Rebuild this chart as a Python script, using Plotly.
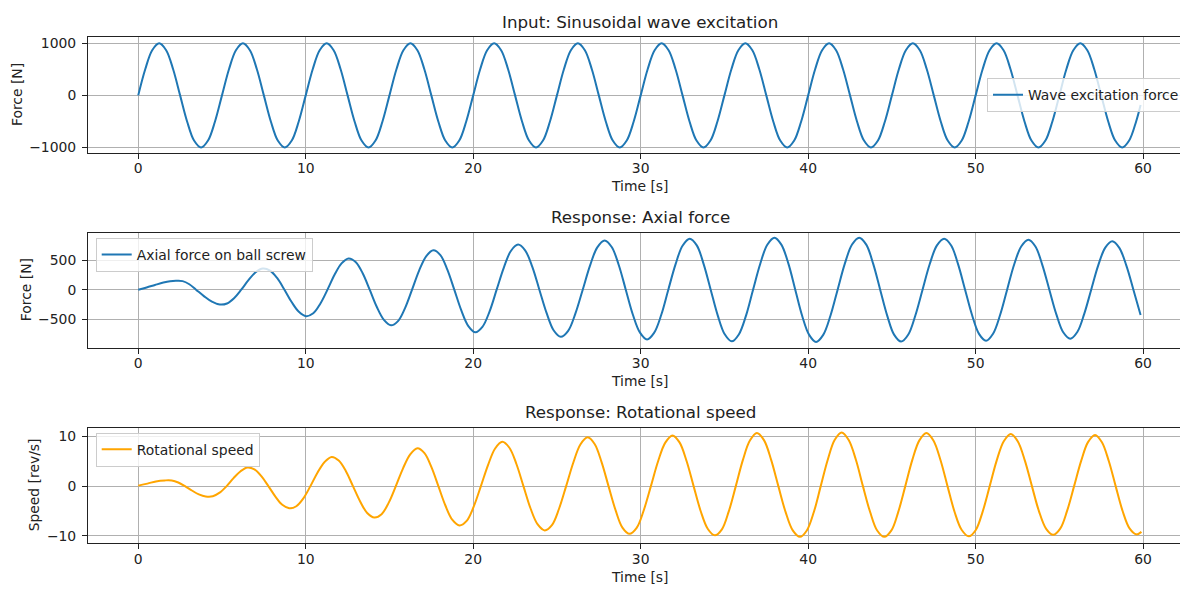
import plotly.graph_objects as go

# ---------------- data ----------------
# Panel 1: input wave excitation force [N]
t_in = [
    0.0, 0.417, 0.833, 1.25, 1.667, 2.083, 2.5, 2.917, 3.333, 3.75, 4.167, 4.583,
    5.0, 5.417, 5.833, 6.25, 6.667, 7.083, 7.5, 7.917, 8.333, 8.75, 9.167, 9.583,
    10.0, 10.417, 10.833, 11.25, 11.667, 12.083, 12.5, 12.917, 13.333, 13.75, 14.167, 14.583,
    15.0, 15.417, 15.833, 16.25, 16.667, 17.083, 17.5, 17.917, 18.333, 18.75, 19.167, 19.583,
    20.0, 20.417, 20.833, 21.25, 21.667, 22.083, 22.5, 22.917, 23.333, 23.75, 24.167, 24.583,
    25.0, 25.417, 25.833, 26.25, 26.667, 27.083, 27.5, 27.917, 28.333, 28.75, 29.167, 29.583,
    30.0, 30.417, 30.833, 31.25, 31.667, 32.083, 32.5, 32.917, 33.333, 33.75, 34.167, 34.583,
    35.0, 35.417, 35.833, 36.25, 36.667, 37.083, 37.5, 37.917, 38.333, 38.75, 39.167, 39.583,
    40.0, 40.417, 40.833, 41.25, 41.667, 42.083, 42.5, 42.917, 43.333, 43.75, 44.167, 44.583,
    45.0, 45.417, 45.833, 46.25, 46.667, 47.083, 47.5, 47.917, 48.333, 48.75, 49.167, 49.583,
    50.0, 50.417, 50.833, 51.25, 51.667, 52.083, 52.5, 52.917, 53.333, 53.75, 54.167, 54.583,
    55.0, 55.417, 55.833, 56.25, 56.667, 57.083, 57.5, 57.917, 58.333, 58.75, 59.167, 59.583,
    59.85,
]
f_in = [
    0, 500, 866, 1000, 866, 500, 0, -500, -866, -1000, -866, -500,
    0, 500, 866, 1000, 866, 500, 0, -500, -866, -1000, -866, -500,
    0, 500, 866, 1000, 866, 500, 0, -500, -866, -1000, -866, -500,
    0, 500, 866, 1000, 866, 500, 0, -500, -866, -1000, -866, -500,
    0, 500, 866, 1000, 866, 500, 0, -500, -866, -1000, -866, -500,
    0, 500, 866, 1000, 866, 500, 0, -500, -866, -1000, -866, -500,
    0, 500, 866, 1000, 866, 500, 0, -500, -866, -1000, -866, -500,
    0, 500, 866, 1000, 866, 500, 0, -500, -866, -1000, -866, -500,
    0, 500, 866, 1000, 866, 500, 0, -500, -866, -1000, -866, -500,
    0, 500, 866, 1000, 866, 500, 0, -500, -866, -1000, -866, -500,
    0, 500, 866, 1000, 866, 500, 0, -500, -866, -1000, -866, -500,
    0, 500, 866, 1000, 866, 500, 0, -500, -866, -1000, -866, -500,
    -185,
]

# Panel 2: axial force on ball screw [N]
t_ax = [
    0.0, 0.5, 1.0, 1.5, 1.9, 2.25,
    2.65, 3.05, 3.45, 3.92, 4.40, 4.87,
    5.30, 5.72, 6.15, 6.58, 7.01, 7.44,
    7.87, 8.30, 8.73, 9.16, 9.59, 10.02,
    10.45, 10.87, 11.30, 11.72, 12.14, 12.56,
    12.98, 13.40, 13.82, 14.24, 14.67, 15.09,
    15.51, 15.93, 16.35, 16.77, 17.20, 17.62,
    18.04, 18.45, 18.87, 19.29, 19.71, 20.13,
    20.55, 20.98, 21.40, 21.83, 22.25, 22.68,
    23.10, 23.53, 23.95, 24.38, 24.80, 25.23,
    25.67, 26.10, 26.54, 26.98, 27.41, 27.85,
    28.27, 28.69, 29.11, 29.53, 29.96, 30.38,
    30.80, 31.23, 31.65, 32.08, 32.50, 32.93,
    33.35, 33.76, 34.18, 34.60, 35.02, 35.44,
    35.86, 36.29, 36.71, 37.14, 37.56, 37.99,
    38.40, 38.82, 39.23, 39.64, 40.06, 40.47,
    40.90, 41.33, 41.76, 42.19, 42.62, 43.05,
    43.47, 43.88, 44.30, 44.72, 45.13, 45.55,
    45.98, 46.40, 46.83, 47.26, 47.69, 48.12,
    48.54, 48.95, 49.37, 49.79, 50.20, 50.62,
    51.04, 51.46, 51.88, 52.30, 52.73, 53.15,
    53.57, 53.98, 54.40, 54.82, 55.23, 55.65,
    56.07, 56.48, 56.90, 57.32, 57.74, 58.16,
    58.58, 59.00, 59.42, 59.85,
]
f_ax = [
    0, 38, 80, 120, 143, 150,
    145, 92, 0, -109, -204, -252,
    -234, -144, 0, 161, 295, 358,
    323, 194, 0, -210, -376, -450,
    -401, -238, 0, 252, 447, 530,
    470, 278, 0, -290, -513, -605,
    -533, -313, 0, 324, 569, 668,
    586, 343, 0, -352, -617, -722,
    -631, -368, 0, 375, 656, 764,
    667, 388, 0, -394, -688, -800,
    -698, -406, 0, 412, 718, 835,
    724, 419, 0, -420, -729, -843,
    -733, -425, 0, 429, 746, 865,
    751, 434, 0, -436, -757, -876,
    -759, -439, 0, 440, 763, 882,
    764, 442, 0, -442, -766, -886,
    -766, -442, 0, 441, 765, 882,
    764, 441, 0, -440, -762, -880,
    -760, -437, 0, 435, 751, 865,
    749, 433, 0, -433, -749, -865,
    -746, -430, 0, 427, 737, 848,
    732, 421, 0, -418, -722, -831,
    -718, -414, 0, 412, 712, 820,
    708, 408, 0, -430,
]

# Panel 3: rotational speed [rev/s]
t_rs = [
    0.0, 0.55, 1.05, 1.6,
    2.0, 2.39, 2.79, 3.20, 3.62, 4.03,
    4.45, 4.86, 5.28, 5.69, 6.11, 6.52,
    6.94, 7.35, 7.77, 8.19, 8.60, 9.02,
    9.44, 9.86, 10.28, 10.70, 11.13, 11.55,
    11.97, 12.40, 12.82, 13.25, 13.67, 14.10,
    14.53, 14.95, 15.38, 15.81, 16.24, 16.67,
    17.09, 17.50, 17.92, 18.34, 18.76, 19.18,
    19.61, 20.03, 20.46, 20.89, 21.31, 21.74,
    22.16, 22.58, 23.00, 23.42, 23.85, 24.27,
    24.70, 25.12, 25.55, 25.98, 26.40, 26.83,
    27.25, 27.66, 28.08, 28.50, 28.91, 29.33,
    29.76, 30.18, 30.61, 31.04, 31.47, 31.90,
    32.32, 32.74, 33.16, 33.58, 34.01, 34.43,
    34.85, 35.26, 35.68, 36.10, 36.52, 36.94,
    37.37, 37.79, 38.22, 38.65, 39.08, 39.51,
    39.92, 40.34, 40.75, 41.17, 41.58, 42.00,
    42.42, 42.85, 43.27, 43.70, 44.12, 44.55,
    44.97, 45.38, 45.80, 46.22, 46.64, 47.06,
    47.48, 47.90, 48.32, 48.74, 49.17, 49.59,
    50.01, 50.42, 50.84, 51.26, 51.68, 52.10,
    52.52, 52.94, 53.36, 53.78, 54.21, 54.63,
    55.05, 55.46, 55.88, 56.30, 56.71, 57.13,
    57.54, 57.95, 58.36, 58.77, 59.19, 59.60,
    59.90,
]
v_rs = [
    0.1, 0.5, 0.95, 1.15,
    1.13, 0.73, 0.0, -0.88, -1.66, -2.07,
    -2.03, -1.32, 0.0, 1.6, 3.0, 3.75,
    3.35, 1.99, 0.0, -2.11, -3.75, -4.45,
    -4.05, -2.46, 0.0, 2.69, 4.86, 5.85,
    5.13, 3.0, 0.0, -3.08, -5.39, -6.3,
    -5.64, -3.37, 0.0, 3.58, 6.39, 7.6,
    6.62, 3.85, 0.0, -3.9, -6.8, -7.9,
    -6.99, -4.12, 0.0, 4.28, 7.56, 8.9,
    7.71, 4.45, 0.0, -4.45, -7.71, -8.9,
    -7.84, -4.6, 0.0, 4.75, 8.36, 9.8,
    8.46, 4.87, 0.0, -4.83, -8.34, -9.6,
    -8.4, -4.9, 0.0, 5.0, 8.75, 10.2,
    8.79, 5.05, 0.0, -5.0, -8.62, -9.9,
    -8.69, -5.08, 0.0, 5.22, 9.15, 10.7,
    9.2, 5.27, 0.0, -5.18, -8.9, -10.2,
    -8.92, -5.2, 0.0, 5.3, 9.27, 10.8,
    9.27, 5.3, 0.0, -5.2, -8.92, -10.2,
    -8.9, -5.18, 0.0, 5.27, 9.2, 10.7,
    9.18, 5.25, 0.0, -5.15, -8.83, -10.1,
    -8.81, -5.12, 0.0, 5.18, 9.03, 10.5,
    8.99, 5.13, 0.0, -5.02, -8.59, -9.8,
    -8.56, -4.98, 0.0, 5.07, 8.85, 10.3,
    8.83, 5.05, 0.0, -4.95, -8.49, -9.7,
    -9.2,
]

# tick labels
x_ticks = [0, 10, 20, 30, 40, 50, 60]
y1_ticks = [-1000, 0, 1000]
y1_text = ["\u22121000", "0", "1000"]
y2_ticks = [-500, 0, 500]
y2_text = ["\u2212500", "0", "500"]
y3_ticks = [-10, 0, 10]
y3_text = ["\u221210", "0", "10"]

titles = ["Input: Sinusoidal wave excitation", "Response: Axial force", "Response: Rotational speed"]
ylabels = ["Force [N]", "Force [N]", "Speed [rev/s]"]
xlabel = "Time [s]"
names = ["Wave excitation force", "Axial force on ball screw", "Rotational speed"]

# ---------------- figure ----------------
# The page body has an 8 px margin, so the figure is drawn 8 px in from the window corner.
OFF = 8
W, H = 1188 - OFF, 589 - OFF
FONT = "DejaVu Sans"
BLUE = "#1f77b4"
ORANGE = "#FFA500"
TXT = "#222222"


def px(x):
    return (x - OFF) / W


def py(y):
    return 1 - (y - OFF) / H


fig = go.Figure()
fig.add_trace(go.Scatter(x=t_in, y=f_in, mode="lines", name=names[0],
                         line=dict(color=BLUE, width=2, shape="spline"),
                         xaxis="x", yaxis="y", legend="legend"))
fig.add_trace(go.Scatter(x=t_ax, y=f_ax, mode="lines", name=names[1],
                         line=dict(color=BLUE, width=2, shape="spline"),
                         xaxis="x2", yaxis="y2", legend="legend2"))
fig.add_trace(go.Scatter(x=t_rs, y=v_rs, mode="lines", name=names[2],
                         line=dict(color=ORANGE, width=2, shape="spline"),
                         xaxis="x3", yaxis="y3", legend="legend3"))

panels = [
    (35.7, 152.0, [-1100, 1110], y1_ticks, y1_text),
    (232.7, 348.7, [-985, 965], y2_ticks, y2_text),
    (429.3, 545.7, [-11.45, 11.75], y3_ticks, y3_text),
]

axis_common = dict(
    showline=True, linecolor=TXT, linewidth=1,
    ticks="outside", ticklen=5, tickwidth=1, tickcolor=TXT,
    showgrid=True, gridcolor="#b0b0b0", gridwidth=0.8,
    zeroline=False,
    tickfont=dict(family=FONT, size=13.9, color=TXT),
)

layout = dict(
    width=W, height=H,
    margin=dict(l=0, r=0, t=0, b=0),
    paper_bgcolor="white", plot_bgcolor="white",
    font=dict(family=FONT, size=13.9, color=TXT),
    showlegend=True,
)

for i, (top, bot, yr, yt, ytx) in enumerate(panels):
    sfx = "" if i == 0 else str(i + 1)
    layout["xaxis" + sfx] = dict(
        axis_common, domain=[px(88), 1.0], range=[-3.0, 62.68],
        tickvals=x_ticks, mirror=True, anchor="y" + sfx,
        ticklabelstandoff=-2,
    )
    layout["yaxis" + sfx] = dict(
        axis_common, domain=[py(bot), py(top)], range=yr,
        tickvals=yt, ticktext=ytx, mirror=False, anchor="x" + sfx,
        ticklabelstandoff=3,
    )

legend_common = dict(
    bgcolor="rgba(255,255,255,0.8)", bordercolor="#cccccc", borderwidth=1,
    font=dict(family=FONT, size=13.9, color=TXT),
    xref="paper", yref="paper", itemwidth=30,
)
layout["legend"] = dict(legend_common, x=px(1185), xanchor="right", y=py(94), yanchor="middle")
layout["legend2"] = dict(legend_common, x=px(95.7), xanchor="left", y=py(238), yanchor="top")
layout["legend3"] = dict(legend_common, x=px(95.7), xanchor="left", y=py(434.5), yanchor="top")

annotations = []
title_y = [19.7, 216.3, 413.0]
xlabel_y = [186.0, 382.5, 580.0]
ylabel_x = [17.0, 26.0, 34.0]
for i, (top, bot, _, _, _) in enumerate(panels):
    annotations.append(dict(text=titles[i], x=px(640), y=py(title_y[i]), xref="paper", yref="paper",
                            xanchor="center", yanchor="middle", showarrow=False,
                            font=dict(family=FONT, size=16.7, color=TXT)))
    annotations.append(dict(text=xlabel, x=px(640), y=py(xlabel_y[i]), xref="paper", yref="paper",
                            xanchor="center", yanchor="middle", showarrow=False,
                            font=dict(family=FONT, size=13.9, color=TXT)))
    annotations.append(dict(text=ylabels[i], x=px(ylabel_x[i]), y=py((top + bot) / 2), xref="paper", yref="paper",
                            xanchor="center", yanchor="middle", showarrow=False, textangle=-90,
                            font=dict(family=FONT, size=13.9, color=TXT)))
layout["annotations"] = annotations

fig.update_layout(layout)
fig.write_html("out.html")
